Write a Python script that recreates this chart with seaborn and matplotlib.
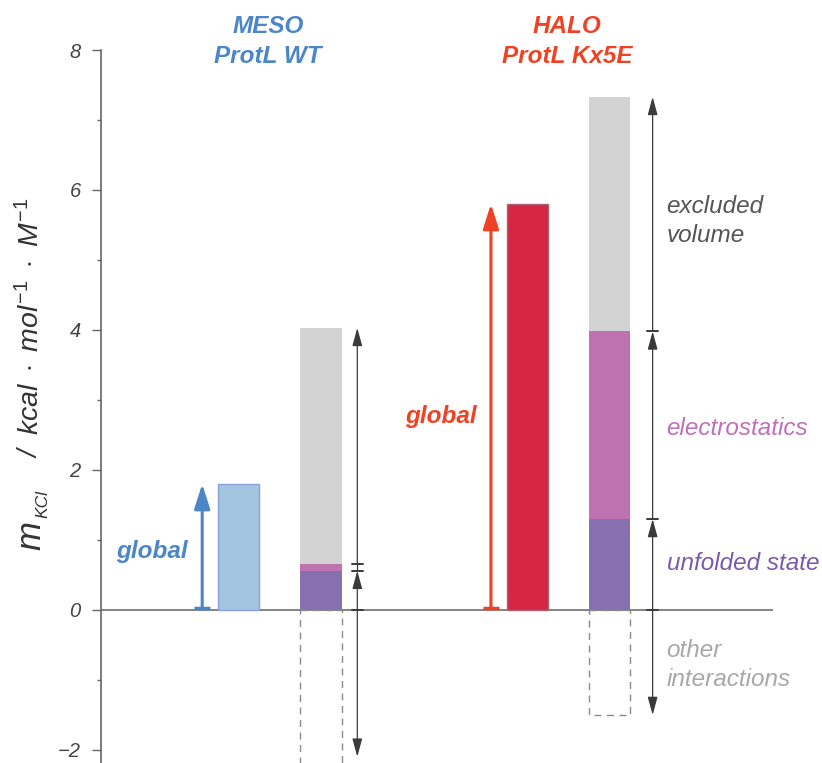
import numpy as np
import matplotlib
matplotlib.use("Agg")
import matplotlib.pyplot as plt
import seaborn as sns

# ---- data: m-values (kcal mol^-1 M^-1) for KCl ----
proteins = ["MESO\nProtL WT", "HALO\nProtL Kx5E"]
m_global = [1.80, 5.80]
m_unfolded = [0.56, 1.30]
m_electrostatics = [0.10, 2.68]
m_excluded = [3.37, 3.35]
m_other = [-2.23, -1.50]
segment_names = ["excluded\nvolume", "electrostatics", "unfolded state", "other\ninteractions"]
ytick_values = [-2, 0, 2, 4, 6, 8]

# ---- style ----
sns.set_theme(style="white")
plt.rcParams["font.family"] = ["Liberation Sans", "DejaVu Sans"]
plt.rcParams["mathtext.fontset"] = "custom"
plt.rcParams["mathtext.it"] = "Liberation Sans:italic"
plt.rcParams["mathtext.rm"] = "Liberation Sans"
plt.rcParams["mathtext.bf"] = "Liberation Sans:bold"

protein_colors = ["#4a86c8", "#ef4123"]
bar_fill = ["#a3c6e0", "#d72645"]
bar_edge = ["#8b9fd8", "#a8646e"]
seg_colors = {"unfolded": "#8670b0", "electro": "#bf72b0", "excluded": "#d3d3d3"}
seg_text_colors = ["#555555", "#c070b8", "#7a5aaa", "#a8a8a8"]

W, H = 822, 763
fig = plt.figure(figsize=(W / 100, H / 100), dpi=100)
Y_LO, Y_HI = -2.186, 8.0
ax = fig.add_axes([101 / W, 0.0, 672 / W, (H - 50) / H])

GLOBAL_X = np.array([0.0, 3.5])
STACK_X = GLOBAL_X + 1.0
BAR_W = 0.5


def draw_bars(xs, heights, bottoms=None, **kw):
    xs = np.asarray(xs, float)
    unit = np.min(np.diff(np.sort(xs))) if len(xs) > 1 else 1.0
    sns.barplot(x=xs, y=heights, native_scale=True, width=BAR_W / unit,
                saturation=1, errorbar=None, bottom=bottoms, ax=ax, **kw)


# zero line
ax.axhline(0, color="#7a7a7a", lw=1.3, zorder=0.5)

# global m-value bars
for i in range(len(proteins)):
    draw_bars([GLOBAL_X[i]], [m_global[i]], color=bar_fill[i],
              edgecolor=bar_edge[i], linewidth=1.0, zorder=2)

# stacked decomposition
unf = np.array(m_unfolded)
ele = np.array(m_electrostatics)
exc = np.array(m_excluded)
draw_bars(STACK_X, unf, None, color=seg_colors["unfolded"], linewidth=0, zorder=2)
draw_bars(STACK_X, ele, unf, color=seg_colors["electro"], linewidth=0, zorder=2)
draw_bars(STACK_X, exc, unf + ele, color=seg_colors["excluded"], linewidth=0, zorder=2)
# other interactions: dashed, unfilled
draw_bars(STACK_X, m_other, None, fill=False, color="#8a8a8a",
          linestyle=(0, (5, 4)), linewidth=1.0, zorder=2)

# global arrows + labels
for i in range(len(proteins)):
    ax_x = GLOBAL_X[i] - 0.44
    ax.annotate("", xy=(ax_x, m_global[i]), xytext=(ax_x, 0.02),
                arrowprops=dict(arrowstyle="-|>,head_length=0.75,head_width=0.24",
                                mutation_scale=20, shrinkA=0, shrinkB=0,
                                color=protein_colors[i], lw=2.2), zorder=3)
    ax.plot([ax_x - 0.1, ax_x + 0.1], [0.03, 0.03], color=protein_colors[i],
            lw=2.5, solid_capstyle="butt", zorder=3)

ax.text(GLOBAL_X[0] - 0.61, 0.83, "global", color=protein_colors[0], fontsize=17.5,
        fontweight="bold", fontstyle="italic", ha="right", va="center")
ax.text(GLOBAL_X[1] - 0.61, 2.76, "global", color=protein_colors[1], fontsize=17.5,
        fontweight="bold", fontstyle="italic", ha="right", va="center")

# dimension lines beside the stacks
dim_offsets = [0.44, 0.52]
head_c = "#3a3a3a"
for i in range(len(proteins)):
    x = STACK_X[i] + dim_offsets[i]
    levels = [0.0, unf[i], unf[i] + ele[i], unf[i] + ele[i] + exc[i]]
    for lo, hi in zip(levels[:-1], levels[1:]):
        if hi - lo > 0.3:
            ax.annotate("", xy=(x, hi), xytext=(x, lo),
                        arrowprops=dict(arrowstyle="-|>,head_length=1.1,head_width=0.3",
                                        mutation_scale=10, shrinkA=0, shrinkB=0,
                                        color=head_c, lw=0.9), zorder=3)
        else:
            ax.plot([x, x], [lo, hi], color=head_c, lw=0.9, zorder=3)
    for lv in levels[:-1]:
        ax.plot([x - 0.065, x + 0.065], [lv, lv], color=head_c, lw=1.4, zorder=3)
    low_end = max(m_other[i], Y_LO + 0.09)
    ax.annotate("", xy=(x, low_end), xytext=(x, 0.0),
                arrowprops=dict(arrowstyle="-|>,head_length=1.1,head_width=0.3",
                                mutation_scale=10, shrinkA=0, shrinkB=0,
                                color=head_c, lw=0.9), zorder=3)

# segment labels
label_x = 5.19
label_y = [5.56, 2.59, 0.67, -0.79]
for name, yy, c in zip(segment_names, label_y, seg_text_colors):
    ax.text(label_x, yy, name, color=c, fontsize=17.5, fontstyle="italic",
            ha="left", va="center", linespacing=1.32, clip_on=False)

# protein titles
title_x = [0.357, 3.98]
for i, name in enumerate(proteins):
    ax.text(title_x[i], 8.12, name, color=protein_colors[i], fontsize=17.5,
            fontweight="bold", fontstyle="italic", ha="center", va="center",
            linespacing=1.38, clip_on=False)

# axes
ax.set_xlim(-1.6667, 6.479)
ax.set_ylim(Y_LO, Y_HI)
ax.set_xticks([])
ax.set_xlabel("")
ax.set_ylabel("")
for s in ["top", "right", "bottom"]:
    ax.spines[s].set_visible(False)
ax.spines["left"].set_color("#666666")
ax.spines["left"].set_linewidth(1.2)
ax.spines["left"].set_bounds(Y_LO, Y_HI)
ax.set_yticks(ytick_values)
ax.set_yticks(np.arange(-1, 8, 2), minor=True)
ax.tick_params(axis="y", which="major", length=6.5, width=1.0, color="#666666",
               direction="out", pad=8, labelsize=14.5, labelcolor="#444444", left=True)
ax.tick_params(axis="y", which="minor", length=3, width=1.0, color="#666666",
               direction="out", left=True)
for lab in ax.get_yticklabels():
    lab.set_fontstyle("italic")
ax.set_facecolor("none")


# y-axis label, composed of pieces
def fx(px):
    return px / W


def fy(py):
    return 1 - py / H


lab_kw = dict(rotation=90, rotation_mode="anchor", va="baseline", color="#333333",
              fontstyle="italic")
fig.text(fx(40), fy(535), "m", fontsize=25, ha="center", **lab_kw)
fig.text(fx(47), fy(504), "KCl", fontsize=12.5, ha="center", **lab_kw)
fig.text(fx(39), fy(454), "/", fontsize=20, ha="center", **lab_kw)
fig.text(fx(39), fy(435), r"$kcal\ \cdot\ mol^{-1}\ \cdot\ M^{-1}$", fontsize=20.5,
         ha="left", **lab_kw)

fig.savefig("out.png", dpi=100)
